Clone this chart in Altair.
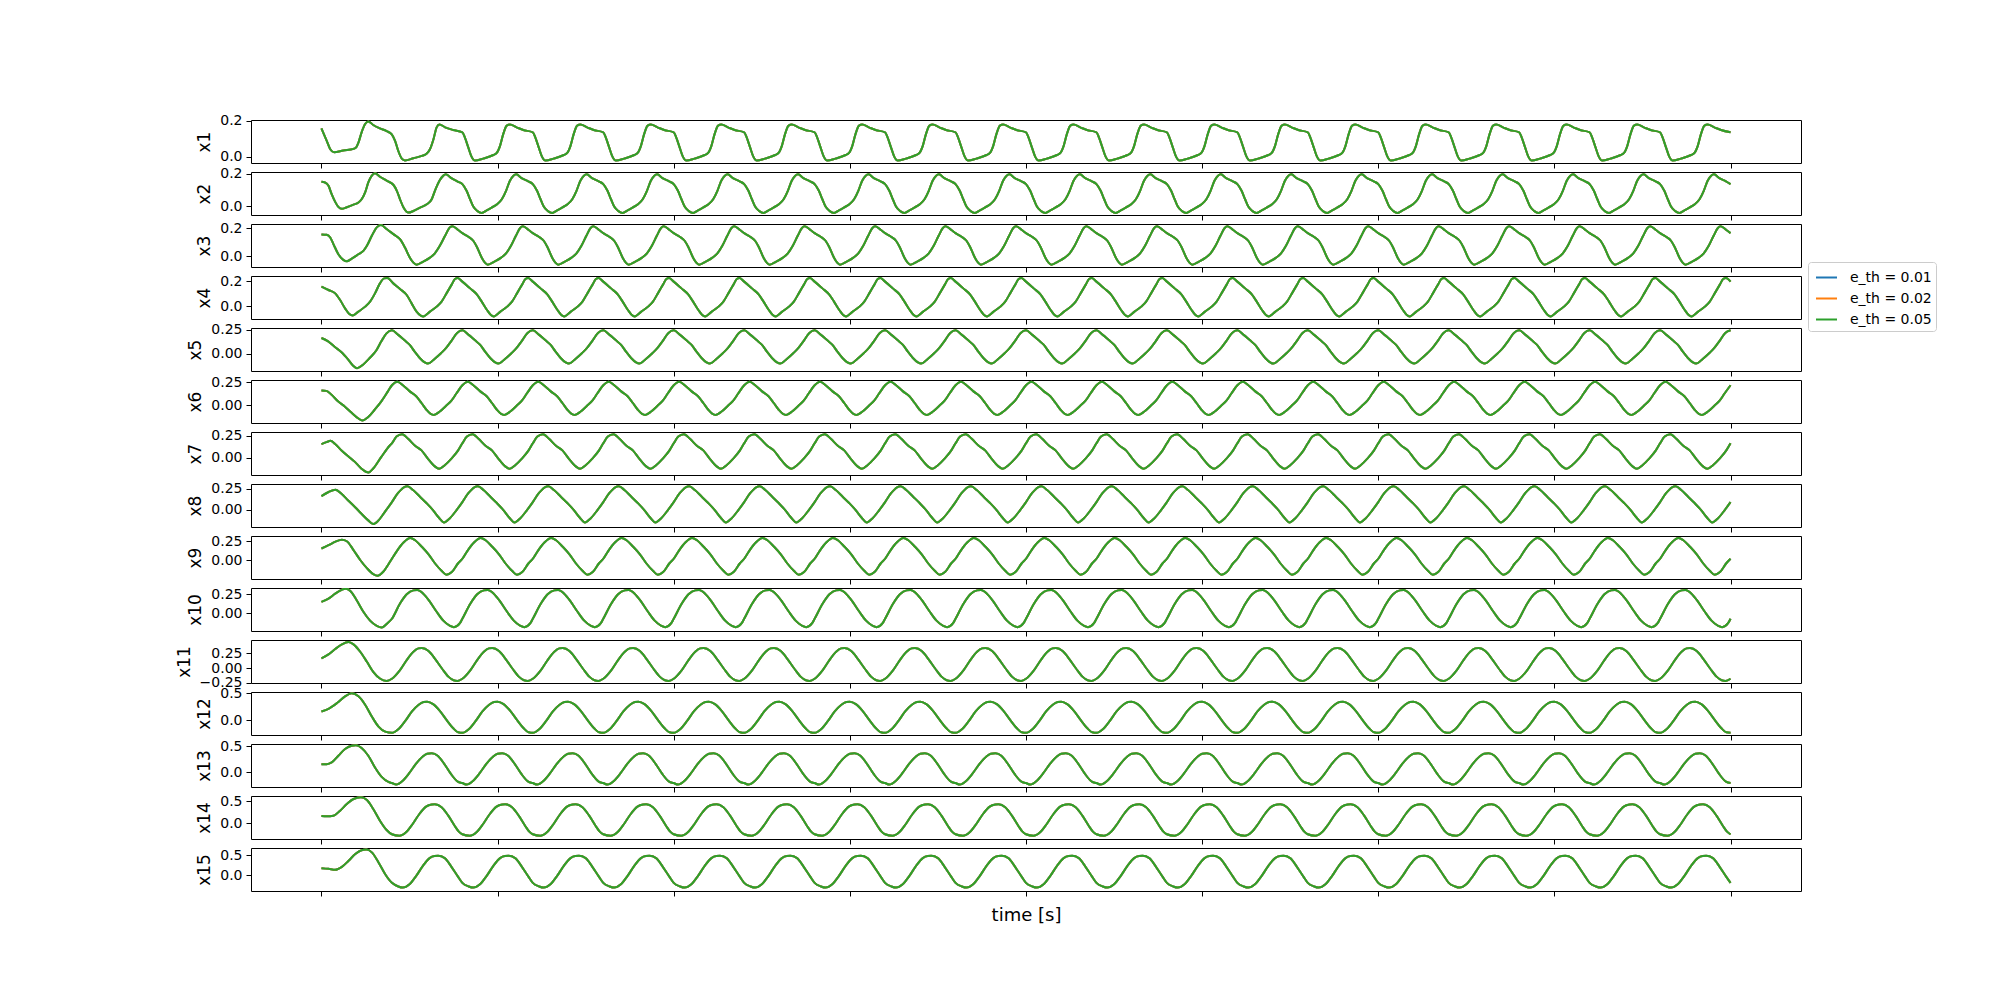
import altair as alt
import pandas as pd

# ---------------- data ----------------
SERIES = ["e_th = 0.01", "e_th = 0.02", "e_th = 0.05"]
COLORS = ["#1f77b4", "#ff7f0e", "#2ca02c"]
NAMES = ["x1", "x2", "x3", "x4", "x5", "x6", "x7", "x8", "x9", "x10",
         "x11", "x12", "x13", "x14", "x15"]
X_TICKS = [0, 5, 10, 15, 20, 25, 30, 35, 40]
T_END = 40.0
PERIOD = 2.0

# start-up part (time, value) and one steady period (phase, value) per state
x1_tr_t = [0, 0.15, 0.25, 0.36, 0.62, 0.91, 0.98, 1.05, 1.14, 1.24, 1.33, 1.47, 1.66, 1.85, 1.99, 2.09,
           2.18, 2.28, 2.37, 2.61, 2.85, 2.99, 3.08, 3.18, 3.27, 3.35, 3.51, 3.74]
x1_tr_v = [0.157, 0.088, 0.041, 0.024, 0.034, 0.043, 0.05, 0.078, 0.135, 0.181, 0.196, 0.176, 0.157, 0.142,
           0.125, 0.088, 0.032, -0.011, -0.021, -0.009, 0.004, 0.017, 0.041, 0.097, 0.163, 0.179, 0.163, 0.148]
x1_cy_p = [0, 0.07, 0.17, 0.26, 0.36, 0.59, 0.88, 0.97, 1.07, 1.16, 1.26, 1.35, 1.54, 1.73]
x1_cy_v = [0.135, 0.107, 0.05, 0.0, -0.022, -0.011, 0.009, 0.019, 0.06, 0.125, 0.172, 0.178, 0.163, 0.148]

x2_tr_t = [0, 0.10, 0.20, 0.29, 0.39, 0.48, 0.58, 0.72, 0.91, 1.05, 1.14, 1.24, 1.33, 1.43, 1.52, 1.66,
           1.85, 2.04, 2.14, 2.23, 2.33, 2.47, 2.61, 2.80, 2.99, 3.13, 3.22, 3.35, 3.46, 3.53, 3.70, 3.88]
x2_tr_v = [0.15, 0.146, 0.126, 0.074, 0.027, -0.004, -0.016, -0.006, 0.01, 0.023, 0.043, 0.085, 0.146,
           0.188, 0.202, 0.181, 0.157, 0.132, 0.095, 0.043, -0.008, -0.039, -0.029, -0.008, 0.012, 0.043,
           0.095, 0.157, 0.188, 0.196, 0.171, 0.15]
x2_cy_p = [0, 0.12, 0.22, 0.31, 0.43, 0.55, 0.69, 0.83, 0.97, 1.12, 1.24, 1.35, 1.45, 1.53, 1.68, 1.87]
x2_cy_v = [0.136, 0.095, 0.043, -0.002, -0.03, -0.041, -0.025, -0.008, 0.01, 0.043, 0.095, 0.157, 0.188,
           0.196, 0.173, 0.153]

x3_tr_t = [0, 0.15, 0.25, 0.34, 0.48, 0.62, 0.72, 0.86, 1.05, 1.19, 1.29, 1.43, 1.57, 1.69, 1.85, 2.04,
           2.23, 2.37, 2.51, 2.61, 2.70, 2.89, 3.08, 3.22, 3.36, 3.51, 3.65, 3.72, 3.88]
x3_tr_v = [0.155, 0.152, 0.133, 0.086, 0.014, -0.026, -0.036, -0.017, 0.014, 0.038, 0.074, 0.145, 0.205,
           0.221, 0.193, 0.157, 0.121, 0.062, -0.01, -0.045, -0.06, -0.038, -0.01, 0.021, 0.074, 0.145,
           0.205, 0.212, 0.186]
x3_cy_p = [0, 0.17, 0.31, 0.41, 0.55, 0.64, 0.72, 0.91, 1.1, 1.24, 1.38, 1.52, 1.64, 1.72, 1.88]
x3_cy_v = [0.164, 0.138, 0.11, 0.067, -0.01, -0.045, -0.06, -0.038, -0.01, 0.021, 0.074, 0.145, 0.2,
           0.212, 0.186]

x4_tr_t = [0, 0.20, 0.39, 0.53, 0.67, 0.79, 0.89, 1.05, 1.24, 1.38, 1.52, 1.66, 1.78, 1.87, 2.04, 2.23,
           2.42, 2.56, 2.70, 2.82, 2.89, 3.08, 3.27, 3.41, 3.55, 3.70, 3.79, 3.87]
x4_tr_v = [0.155, 0.128, 0.101, 0.048, -0.019, -0.064, -0.075, -0.045, -0.005, 0.035, 0.101, 0.181,
           0.221, 0.224, 0.181, 0.136, 0.088, 0.021, -0.045, -0.077, -0.083, -0.045, -0.005, 0.035,
           0.101, 0.173, 0.216, 0.224]
x4_cy_p = [0, 0.22, 0.41, 0.55, 0.70, 0.81, 0.89, 1.08, 1.27, 1.41, 1.55, 1.70, 1.79, 1.87]
x4_cy_v = [0.195, 0.141, 0.093, 0.035, -0.032, -0.072, -0.083, -0.045, -0.005, 0.035, 0.101, 0.173,
           0.216, 0.224]

x5_tr_t = [0, 0.19, 0.38, 0.57, 0.76, 0.90, 1.01, 1.18, 1.37, 1.56, 1.70, 1.84]
x5_tr_v = [0.164, 0.13, 0.072, 0.017, -0.058, -0.12, -0.147, -0.11, -0.041, 0.038, 0.13, 0.209]
x5_cy_p = [0, 0.17, 0.36, 0.50, 0.64, 0.79, 0.93, 1.02, 1.21, 1.40, 1.54, 1.68, 1.85]
x5_cy_v = [0.243, 0.199, 0.14, 0.096, 0.027, -0.041, -0.086, -0.099, -0.051, 0.01, 0.062, 0.13, 0.216]

x6_tr_t = [0, 0.14, 0.28, 0.47, 0.66, 0.85, 1.04, 1.16, 1.32, 1.51, 1.70, 1.89]
x6_tr_v = [0.158, 0.154, 0.114, 0.04, -0.015, -0.081, -0.143, -0.169, -0.132, -0.051, 0.04, 0.151]
x6_cy_p = [0, 0.155, 0.32, 0.50, 0.69, 0.84, 0.98, 1.10, 1.19, 1.36, 1.54, 1.69, 1.83]
x6_cy_v = [0.215, 0.254, 0.213, 0.151, 0.096, 0.022, -0.051, -0.096, -0.107, -0.07, -0.007, 0.048, 0.125]

x7_tr_t = [0, 0.14, 0.26, 0.38, 0.57, 0.76, 0.95, 1.13, 1.26, 1.34, 1.47, 1.70, 1.94]
x7_tr_v = [0.155, 0.178, 0.193, 0.159, 0.083, 0.015, -0.049, -0.125, -0.163, -0.17, -0.125, 0.008, 0.14]
x7_cy_p = [0, 0.13, 0.29, 0.46, 0.65, 0.84, 1.02, 1.21, 1.34, 1.50, 1.69, 1.88]
x7_cy_v = [0.165, 0.242, 0.27, 0.216, 0.14, 0.083, -0.011, -0.098, -0.129, -0.087, -0.011, 0.083]

x8_tr_t = [0, 0.19, 0.40, 0.57, 0.76, 0.95, 1.13, 1.32, 1.47, 1.61, 1.80]
x8_tr_v = [0.16, 0.207, 0.238, 0.188, 0.109, 0.031, -0.047, -0.125, -0.172, -0.133, -0.027]
x8_cy_p = [0, 0.17, 0.34, 0.44, 0.60, 0.79, 0.98, 1.17, 1.33, 1.48, 1.64, 1.83]
x8_cy_v = [0.09, 0.195, 0.266, 0.277, 0.234, 0.156, 0.078, -0.008, -0.094, -0.152, -0.105, -0.008]

x9_tr_t = [0, 0.2, 0.4, 0.58, 0.72, 0.91, 1.10, 1.29, 1.47, 1.59, 1.76, 1.95]
x9_tr_v = [0.155, 0.198, 0.245, 0.27, 0.25, 0.134, 0.004, -0.103, -0.181, -0.203, -0.147, -0.017]
x9_cy_p = [0, 0.14, 0.33, 0.52, 0.66, 0.85, 1.04, 1.22, 1.41, 1.55, 1.70, 1.88]
x9_cy_v = [0.02, 0.121, 0.233, 0.293, 0.263, 0.177, 0.078, -0.039, -0.138, -0.19, -0.155, -0.039]

x10_tr_t = [0, 0.2, 0.39, 0.58, 0.69, 0.82, 1.0, 1.19, 1.38, 1.57, 1.71, 1.85]
x10_tr_v = [0.15, 0.192, 0.256, 0.308, 0.321, 0.291, 0.171, 0.021, -0.094, -0.162, -0.184, -0.137]
x10_cy_p = [0, 0.23, 0.42, 0.61, 0.72, 0.89, 1.08, 1.27, 1.46, 1.65, 1.76, 1.93]
x10_cy_v = [-0.07, 0.128, 0.248, 0.299, 0.303, 0.256, 0.15, 0.021, -0.094, -0.162, -0.179, -0.128]

x11_tr_t = [0, 0.2, 0.39, 0.58, 0.77, 0.91, 1.1, 1.29, 1.47, 1.66, 1.85]
x11_tr_v = [0.165, 0.233, 0.324, 0.403, 0.443, 0.403, 0.278, 0.108, -0.063, -0.176, -0.216]
x11_cy_p = [0, 0.23, 0.42, 0.61, 0.75, 0.85, 1.04, 1.23, 1.42, 1.61, 1.75, 1.86]
x11_cy_v = [-0.18, -0.034, 0.136, 0.278, 0.335, 0.341, 0.29, 0.153, -0.006, -0.148, -0.205, -0.216]

x12_tr_t = [0, 0.2, 0.44, 0.67, 0.86, 1.05, 1.24, 1.43, 1.62, 1.81]
x12_tr_v = [0.163, 0.213, 0.319, 0.444, 0.5, 0.444, 0.288, 0.069, -0.119, -0.213]
x12_cy_p = [0, 0.19, 0.38, 0.57, 0.76, 0.9, 1.0, 1.17, 1.36, 1.55, 1.74, 1.88]
x12_cy_v = [-0.235, -0.163, -0.013, 0.163, 0.288, 0.338, 0.345, 0.3, 0.175, 0.006, -0.15, -0.225]

x13_tr_t = [0, 0.15, 0.29, 0.48, 0.67, 0.86, 0.98, 1.14, 1.33, 1.52, 1.71, 1.9]
x13_tr_v = [0.156, 0.156, 0.188, 0.318, 0.448, 0.513, 0.519, 0.468, 0.318, 0.091, -0.091, -0.188]
x13_cy_p = [0, 0.12, 0.3, 0.49, 0.68, 0.87, 1.0, 1.13, 1.3, 1.49, 1.68, 1.87]
x13_cy_v = [-0.21, -0.24, -0.17, -0.02, 0.16, 0.3, 0.355, 0.365, 0.318, 0.156, -0.039, -0.182]

x14_tr_t = [0, 0.15, 0.34, 0.53, 0.72, 0.91, 1.12, 1.29, 1.47, 1.66, 1.85]
x14_tr_v = [0.162, 0.154, 0.169, 0.285, 0.438, 0.554, 0.592, 0.531, 0.323, 0.054, -0.162]
x14_cy_p = [0, 0.21, 0.4, 0.59, 0.78, 0.97, 1.13, 1.22, 1.41, 1.6, 1.78, 1.9]
x14_cy_v = [-0.26, -0.295, -0.215, -0.023, 0.208, 0.377, 0.425, 0.43, 0.362, 0.169, -0.062, -0.2]

x15_tr_t = [0, 0.2, 0.39, 0.58, 0.77, 0.96, 1.14, 1.27, 1.43, 1.62, 1.81]
x15_tr_v = [0.175, 0.158, 0.135, 0.208, 0.358, 0.525, 0.62, 0.635, 0.567, 0.317, 0.025]
x15_cy_p = [0, 0.18, 0.31, 0.5, 0.69, 0.88, 1.07, 1.21, 1.31, 1.5, 1.69, 1.88]
x15_cy_v = [-0.19, -0.28, -0.308, -0.225, -0.017, 0.233, 0.425, 0.475, 0.48, 0.425, 0.208, -0.042]

# start of the steady part for each state
STEADY_FROM = [4, 4, 4, 4, 2, 2, 2, 2, 2, 2, 2, 2, 2, 2, 2]

# axis limits and ticks
Y_LIMS = [[-0.0355, 0.2037], [-0.0536, 0.2103], [-0.0762, 0.2286], [-0.104, 0.24],
          [-0.175, 0.267], [-0.195, 0.272], [-0.2, 0.295], [-0.207, 0.305],
          [-0.246, 0.319], [-0.229, 0.33], [-0.252, 0.477], [-0.275, 0.525],
          [-0.286, 0.545], [-0.369, 0.623], [-0.392, 0.675]]
Y_TICKS = [[0.0, 0.2]] * 4 + [[0.0, 0.25]] * 6 + [[-0.25, 0.0, 0.25]] + [[0.0, 0.5]] * 4
Y_FMT = [".1f"] * 4 + [".2f"] * 7 + [".1f"] * 4

PANELS = [
    (x1_tr_t, x1_tr_v, x1_cy_p, x1_cy_v), (x2_tr_t, x2_tr_v, x2_cy_p, x2_cy_v),
    (x3_tr_t, x3_tr_v, x3_cy_p, x3_cy_v), (x4_tr_t, x4_tr_v, x4_cy_p, x4_cy_v),
    (x5_tr_t, x5_tr_v, x5_cy_p, x5_cy_v), (x6_tr_t, x6_tr_v, x6_cy_p, x6_cy_v),
    (x7_tr_t, x7_tr_v, x7_cy_p, x7_cy_v), (x8_tr_t, x8_tr_v, x8_cy_p, x8_cy_v),
    (x9_tr_t, x9_tr_v, x9_cy_p, x9_cy_v), (x10_tr_t, x10_tr_v, x10_cy_p, x10_cy_v),
    (x11_tr_t, x11_tr_v, x11_cy_p, x11_cy_v), (x12_tr_t, x12_tr_v, x12_cy_p, x12_cy_v),
    (x13_tr_t, x13_tr_v, x13_cy_p, x13_cy_v), (x14_tr_t, x14_tr_v, x14_cy_p, x14_cy_v),
    (x15_tr_t, x15_tr_v, x15_cy_p, x15_cy_v),
]


def series_points(tr_t, tr_v, cy_p, cy_v, t0):
    ts, vs = list(tr_t), list(tr_v)
    k = 0
    while True:
        base = t0 + PERIOD * k
        for p, v in zip(cy_p, cy_v):
            t = base + p
            if t > T_END + 1e-9:
                break
            ts.append(round(t, 4))
            vs.append(v)
        if base + PERIOD > T_END + 1e-9:
            break
        k += 1
    return ts, vs


FONT = "DejaVu Sans"
charts = []
for i, (tr_t, tr_v, cy_p, cy_v) in enumerate(PANELS):
    ts, vs = series_points(tr_t, tr_v, cy_p, cy_v, STEADY_FROM[i])
    rows = []
    for s in SERIES:
        for t, v in zip(ts, vs):
            rows.append({"t": t, "v": v, "series": s})
    df = pd.DataFrame(rows)
    last = i == len(PANELS) - 1
    x_axis = alt.Axis(values=X_TICKS, labels=False, grid=False, domain=False,
                      tickSize=5, tickColor="black", tickWidth=1,
                      titleFontSize=18, titleFontWeight="normal", titleColor="black",
                      titlePadding=10, titleFont=FONT)
    x_enc = alt.X("t:Q", scale=alt.Scale(domain=[-2, 42], nice=False, zero=False),
                  axis=x_axis, title="time [s]" if last else None)
    y_axis = alt.Axis(values=Y_TICKS[i], format=Y_FMT[i], grid=False, domain=False,
                      tickSize=5, tickColor="black", tickWidth=1,
                      labelFontSize=14, labelColor="black", labelPadding=4, labelFont=FONT,
                      labelFlush=False, labelOverlap=False, labelBound=False,
                      titleFontSize=17, titleFontWeight="normal", titleColor="black",
                      titlePadding=6, titleFont=FONT)
    y_enc = alt.Y("v:Q", scale=alt.Scale(domain=Y_LIMS[i], nice=False, zero=False),
                  axis=y_axis, title=NAMES[i])
    color = alt.Color("series:N", scale=alt.Scale(domain=SERIES, range=COLORS),
                      legend=alt.Legend(title=None, orient="none", legendX=1557, legendY=142,
                                        symbolType="stroke", symbolStrokeWidth=2, symbolSize=441,
                                        symbolOffset=3,
                                        labelFontSize=14, labelColor="black", labelFont=FONT,
                                        labelOffset=12, rowPadding=2, padding=4,
                                        fillColor="white", strokeColor="#cccccc",
                                        cornerRadius=3))
    ch = alt.Chart(df).mark_line(strokeWidth=2, interpolate="monotone", clip=True).encode(
        x=x_enc, y=y_enc, color=color
    ).properties(width=1550, height=43,
                 view=alt.ViewBackground(stroke="black", strokeWidth=1))
    charts.append(ch)

chart = alt.vconcat(*charts, spacing=9, bounds="flush").properties(
    padding={"left": 174, "top": 113, "right": 5, "bottom": 5}
).configure(font=FONT, background="white").configure_view(stroke="black", strokeWidth=1)

chart.save("out.html", embed_options={"renderer": "svg", "actions": False})
